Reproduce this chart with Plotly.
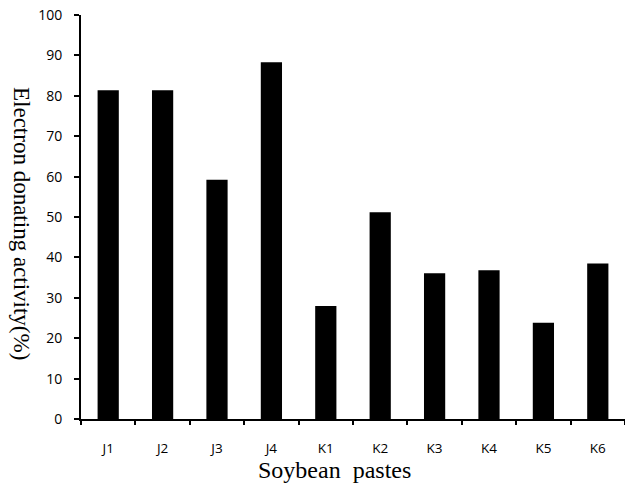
import plotly.graph_objects as go

categories = ["J1", "J2", "J3", "J4", "K1", "K2", "K3", "K4", "K5", "K6"]
activity = [81.4, 81.4, 59.2, 88.3, 28.0, 51.2, 36.1, 36.8, 23.8, 38.5]
y_ticks = [0, 10, 20, 30, 40, 50, 60, 70, 80, 90, 100]

W, H = 625, 484
L, T, B = 81, 15, 484 - 419
PW, PH = W - L, H - T - B

fig = go.Figure(
    go.Bar(x=categories, y=activity, marker=dict(color="black", line=dict(width=0)), width=0.39)
)

fig.update_layout(
    width=W, height=H,
    margin=dict(l=L, r=0, t=T, b=B, autoexpand=False),
    plot_bgcolor="white", paper_bgcolor="white",
    showlegend=False,
    font=dict(family="Open Sans, Lato, sans-serif", size=14, color="black"),
)

fig.update_xaxes(
    range=[-0.5, 9.5],
    showline=True, linecolor="black", linewidth=2,
    ticks="outside", tickson="boundaries", ticklen=4, tickwidth=2, tickcolor="black",
    ticklabelstandoff=16, ticklabeloverflow="allow",
    showgrid=False, zeroline=False,
    tickfont=dict(family="Open Sans, Lato, sans-serif", size=13.5),
)
fig.update_yaxes(
    range=[0, 100], tickvals=y_ticks,
    showline=True, linecolor="black", linewidth=2,
    ticks="outside", ticklen=5, tickwidth=2, tickcolor="black",
    ticklabelstandoff=9, ticklabeloverflow="allow",
    showgrid=False, zeroline=False,
    tickfont=dict(family="Open Sans, Lato, sans-serif", size=14),
)

fig.add_annotation(
    text="Electron donating activity(%)", textangle=90,
    xref="paper", yref="paper", x=(22 - 81) / PW, y=(419 - 223) / PH,
    xanchor="center", yanchor="middle", showarrow=False,
    font=dict(family="Liberation Serif, Times New Roman, serif", size=23, color="black"),
)
fig.add_annotation(
    text="Soybean  pastes",
    xref="paper", yref="paper", x=(334 - 81) / PW, y=-(470 - 419) / PH,
    xanchor="center", yanchor="middle", showarrow=False,
    font=dict(family="Liberation Serif, Times New Roman, serif", size=24, color="black"),
)

# remove the browser's default 8px body margin so the figure fills the window
fig.write_html(
    "out.html",
    config={"displayModeBar": False},
    post_script="document.body.style.margin='0px';",
)
